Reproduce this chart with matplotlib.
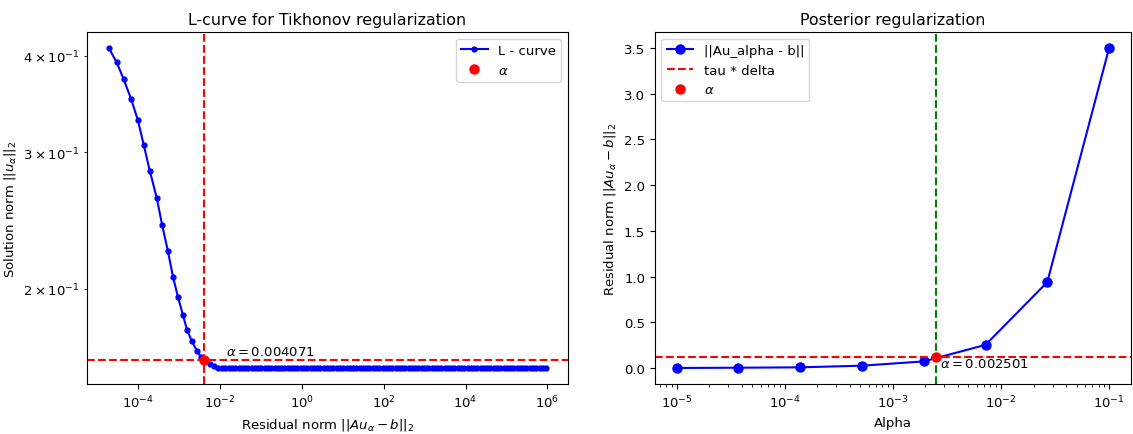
import numpy as np
import matplotlib
matplotlib.use("Agg")
import matplotlib.pyplot as plt

plt.rcParams['font.size'] = 9.5

# L-curve, steep part (log10 of residual norm, solution norm)
steep_log_residual = [-4.72, -4.53, -4.36, -4.18, -4.01, -3.87, -3.72, -3.55, -3.42,
                      -3.28, -3.15, -3.03, -2.91, -2.81, -2.69, -2.56, -2.46, -2.39,
                      -2.25, -2.15, -2.05]
steep_norm = [0.409, 0.392, 0.373, 0.352, 0.330, 0.307, 0.284, 0.262, 0.242,
              0.224, 0.207, 0.195, 0.185, 0.177, 0.171, 0.166, 0.163, 0.162,
              0.160, 0.159, 0.158]

# L-curve, flat part
flat_log_residual = [-1.95, -1.87, -1.79, -1.71, -1.63, -1.55, -1.47, -1.39, -1.31, -1.23,
                     -1.15, -1.07, -0.99, -0.91, -0.83, -0.75, -0.67, -0.59, -0.51, -0.43,
                     -0.35, -0.27, -0.19, -0.11, -0.03, 0.05, 0.13, 0.21, 0.29, 0.37,
                     0.45, 0.53, 0.61, 0.69, 0.77, 0.85, 0.93, 1.01, 1.09, 1.17,
                     1.25, 1.33, 1.41, 1.49, 1.57, 1.65, 1.73, 1.81, 1.89, 1.97,
                     2.05, 2.13, 2.21, 2.29, 2.37, 2.45, 2.53, 2.61, 2.69, 2.77,
                     2.85, 2.93, 3.01, 3.09, 3.17, 3.25, 3.33, 3.41, 3.49, 3.57,
                     3.65, 3.73, 3.81, 3.89, 3.97, 4.05, 4.13, 4.21, 4.29, 4.37,
                     4.45, 4.53, 4.61, 4.69, 4.77, 4.85, 4.93, 5.01, 5.09, 5.17,
                     5.25, 5.33, 5.41, 5.49, 5.57, 5.65, 5.73, 5.81, 5.89, 5.97]
flat_norm = [0.158] * len(flat_log_residual)

lcurve_alpha = 0.004071
lcurve_alpha_norm = 0.162

# posterior regularization
alphas = [1e-5, 3.73e-5, 1.39e-4, 5.18e-4, 1.93e-3, 7.2e-3, 2.68e-2, 1e-1]
residuals = [0.0, 0.003, 0.007, 0.025, 0.072, 0.253, 0.939, 3.50]
tau_delta = 0.115
post_alpha = 0.002501

residual_norm = 10 ** np.array(steep_log_residual + flat_log_residual)
solution_norm = np.array(steep_norm + flat_norm)

fig = plt.figure(figsize=(11.33, 4.35), dpi=100)
ax1 = fig.add_axes([0.0768, 0.115, 0.4245, 0.809])
ax2 = fig.add_axes([0.578, 0.115, 0.420, 0.809])

# left: L-curve
ax1.plot(residual_norm, solution_norm, 'b.-', markersize=7, linewidth=1.5, label='L - curve')
ax1.plot(lcurve_alpha, lcurve_alpha_norm, 'ro', markersize=6.5, label=r'$\alpha$')
ax1.axvline(lcurve_alpha, color='r', linestyle='--', linewidth=1.5)
ax1.axhline(lcurve_alpha_norm, color='r', linestyle='--', linewidth=1.5)
ax1.annotate(r'$\alpha = %.6f$' % lcurve_alpha, (lcurve_alpha, lcurve_alpha_norm),
             xytext=(16, 3), textcoords='offset points')
ax1.set_xscale('log')
ax1.set_yscale('log')
ax1.set_title('L-curve for Tikhonov regularization')
ax1.set_xlabel(r'Residual norm $||Au_\alpha - b||_2$')
ax1.set_ylabel(r'Solution norm $||u_\alpha||_2$')
ax1.legend(loc='upper right')

# right: posterior
ax2.plot(alphas, residuals, 'bo-', markersize=6.5, linewidth=1.5, label='||Au_alpha - b||')
ax2.axhline(tau_delta, color='r', linestyle='--', linewidth=1.5, label='tau * delta')
ax2.axvline(post_alpha, color='g', linestyle='--', linewidth=1.5)
ax2.plot(post_alpha, tau_delta, 'ro', markersize=6.5, label=r'$\alpha$')
ax2.annotate(r'$\alpha = %.6f$' % post_alpha, (post_alpha, tau_delta),
             xytext=(3, 0), textcoords='offset points', va='top')
ax2.set_xscale('log')
ax2.set_title('Posterior regularization')
ax2.set_xlabel('Alpha')
ax2.set_ylabel(r'Residual norm $||Au_\alpha - b||_2$')
ax2.legend(loc='upper left')

fig.savefig('out.png', dpi=100)
